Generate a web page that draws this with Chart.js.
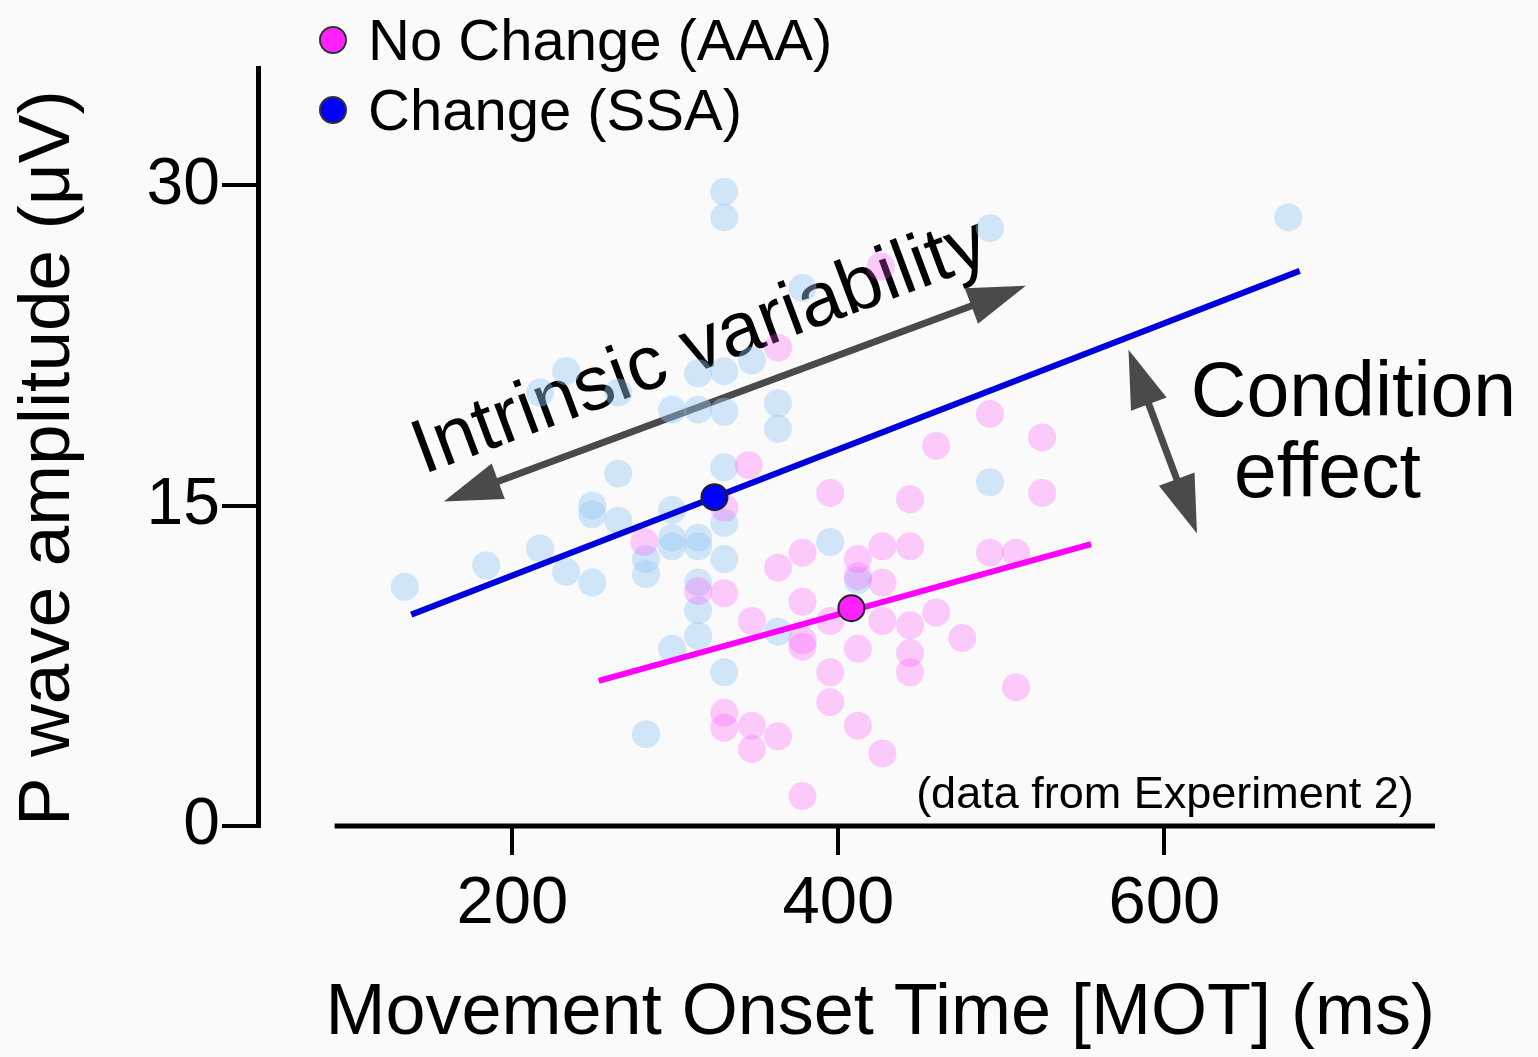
<!DOCTYPE html>
<html>
<head>
<meta charset="utf-8">
<script src="https://cdn.jsdelivr.net/npm/chart.js@4.4.0/dist/chart.umd.min.js"></script>
<style>
  html, body { margin: 0; padding: 0; background: #fafafa; }
</style>
</head>
<body>
<canvas id="motChart" width="1538" height="1057"></canvas>
<script>
// single trials: movement onset time (ms) and P wave amplitude (uV)
const ssaMot = [134, 184, 217, 233, 249, 249, 249, 265, 265, 282, 282, 282, 298, 298, 298, 298,
                314, 314, 314, 314, 314, 330, 330, 330, 330, 330, 330, 233, 217, 265, 314, 330,
                347, 298, 314, 330, 363, 363, 378, 493, 676, 395, 493, 363, 412];
const ssaAmp = [11.2, 12.2, 13.0, 11.9, 15.0, 14.6, 11.4, 16.5, 14.3, 12.5, 11.8, 4.3, 14.8, 13.5, 13.1, 8.3,
                13.5, 13.1, 11.4, 10.1, 8.9, 16.8, 14.2, 12.5, 7.2, 29.7, 28.5, 21.3, 20.3, 20.3, 21.2, 21.3,
                21.8, 19.5, 19.5, 19.4, 19.8, 18.6, 25.2, 28.0, 28.5, 13.3, 16.1, 9.1, 11.5];

const aaaMot = [281, 330, 345, 363, 426, 493, 460, 525, 395, 444, 525, 378, 363, 412, 427, 444,
                493, 509, 412, 427, 378, 395, 378, 378, 427, 444, 460, 476, 412, 444, 444, 395,
                509, 395, 412, 363, 427, 378, 314, 330, 347, 330, 330, 347, 347];
const aaaAmp = [13.3, 14.9, 16.9, 22.4, 26.2, 19.3, 17.8, 18.2, 15.6, 15.3, 15.6, 12.8, 12.1, 12.5, 13.1, 13.1,
                12.8, 12.8, 11.7, 11.4, 10.5, 9.6, 8.7, 8.4, 9.6, 9.4, 10.0, 8.8, 8.3, 8.1, 7.2, 7.2,
                6.5, 5.8, 4.7, 4.2, 3.4, 1.4, 11.0, 10.9, 9.6, 5.3, 4.6, 4.7, 3.6];

// fitted lines (end points) and condition means
const ssaFitMot = [138, 683];
const ssaFitAmp = [9.9, 26.0];
const aaaFitMot = [253, 555];
const aaaFitAmp = [6.8, 13.2];
const ssaMean = [324, 15.4];
const aaaMean = [408, 10.2];

const xTicks = [200, 400, 600];
const yTicks = [0, 15, 30];

const FONT = '"Liberation Sans", Arial, Helvetica, sans-serif';

function toPoints(xs, ys) {
    return xs.map((v, i) => ({ x: v, y: ys[i] }));
}

function arrow(ctx, x1, y1, x2, y2) {
    const ang = Math.atan2(y2 - y1, x2 - x1);
    const head = 58, half = 19;
    const cos = Math.cos(ang), sin = Math.sin(ang);
    ctx.strokeStyle = '#4a4a4a';
    ctx.fillStyle = '#4a4a4a';
    ctx.lineWidth = 7;
    ctx.beginPath();
    ctx.moveTo(x1 + cos * (head - 4), y1 + sin * (head - 4));
    ctx.lineTo(x2 - cos * (head - 4), y2 - sin * (head - 4));
    ctx.stroke();
    [[x1, y1, 1], [x2, y2, -1]].forEach(([px, py, d]) => {
        const bx = px + d * cos * head, by = py + d * sin * head;
        ctx.beginPath();
        ctx.moveTo(px, py);
        ctx.lineTo(bx - sin * half, by + cos * half);
        ctx.lineTo(bx + sin * half, by - cos * half);
        ctx.closePath();
        ctx.fill();
    });
}

// arrows and labels written on the plot
const notes = {
    id: 'notes',
    beforeDatasetsDraw(chart) {
        const { ctx, scales: { x, y } } = chart;
        ctx.save();
        arrow(ctx, x.getPixelForValue(158), y.getPixelForValue(15.2),
                   x.getPixelForValue(515), y.getPixelForValue(25.3));
        arrow(ctx, x.getPixelForValue(578), y.getPixelForValue(22.3),
                   x.getPixelForValue(620), y.getPixelForValue(13.7));

        ctx.fillStyle = '#000';
        ctx.textBaseline = 'alphabetic';
        ctx.font = '77px ' + FONT;
        ctx.textAlign = 'center';
        ctx.fillText('Condition', x.getPixelForValue(716), y.getPixelForValue(19.2));
        ctx.fillText('effect', x.getPixelForValue(700), y.getPixelForValue(15.4));

        ctx.font = '45px ' + FONT;
        ctx.textAlign = 'right';
        ctx.fillText('(data from Experiment 2)', x.getPixelForValue(753), y.getPixelForValue(0.85));

        ctx.translate(x.getPixelForValue(320), y.getPixelForValue(21.45));
        ctx.rotate(-20.5 * Math.PI / 180);
        ctx.font = '77px ' + FONT;
        ctx.textAlign = 'center';
        ctx.fillText('Intrinsic variability', 0, 0);
        ctx.restore();
    },
    afterDraw(chart) {
        const { ctx, scales: { x, y } } = chart;
        ctx.save();
        // detached x axis line
        ctx.strokeStyle = '#000';
        ctx.lineWidth = 5;
        ctx.beginPath();
        ctx.moveTo(x.getPixelForValue(91), y.getPixelForValue(0));
        ctx.lineTo(x.getPixelForValue(766), y.getPixelForValue(0));
        ctx.stroke();

        // legend
        const items = [chart.data.datasets[1], chart.data.datasets[0]];
        ctx.font = '58px ' + FONT;
        ctx.textAlign = 'left';
        ctx.textBaseline = 'alphabetic';
        items.forEach((ds, i) => {
            const cy = 40 + i * 70;
            ctx.beginPath();
            ctx.arc(333, cy, 13, 0, Math.PI * 2);
            ctx.fillStyle = ds.backgroundColor;
            ctx.fill();
            ctx.lineWidth = 2;
            ctx.strokeStyle = '#333';
            ctx.stroke();
            ctx.fillStyle = '#000';
            ctx.fillText(ds.label, 368, cy + 20);
        });
        ctx.restore();
    }
};

new Chart(document.getElementById('motChart'), {
    type: 'scatter',
    data: {
        datasets: [
            {
                label: 'Change (SSA)',
                data: [{ x: ssaMean[0], y: ssaMean[1] }],
                backgroundColor: '#0000ff',
                borderColor: '#222',
                borderWidth: 2,
                pointRadius: 13
            },
            {
                label: 'No Change (AAA)',
                data: [{ x: aaaMean[0], y: aaaMean[1] }],
                backgroundColor: '#ff22ff',
                borderColor: '#222',
                borderWidth: 2,
                pointRadius: 13
            },
            {
                label: 'SSA fit',
                data: toPoints(ssaFitMot, ssaFitAmp),
                showLine: true,
                borderColor: '#0000dd',
                borderWidth: 6,
                pointRadius: 0
            },
            {
                label: 'AAA fit',
                data: toPoints(aaaFitMot, aaaFitAmp),
                showLine: true,
                borderColor: '#ff00ff',
                borderWidth: 6,
                pointRadius: 0
            },
            {
                label: 'AAA trials',
                data: toPoints(aaaMot, aaaAmp),
                backgroundColor: 'rgba(255, 80, 255, 0.28)',
                borderWidth: 0,
                pointRadius: 14
            },
            {
                label: 'SSA trials',
                data: toPoints(ssaMot, ssaAmp),
                backgroundColor: 'rgba(150, 200, 245, 0.42)',
                borderWidth: 0,
                pointRadius: 14
            }
        ]
    },
    options: {
        responsive: false,
        animation: false,
        events: [],
        layout: { padding: { top: 68, right: 103, left: 0, bottom: 0 } },
        plugins: {
            legend: { display: false },
            tooltip: { enabled: false }
        },
        scales: {
            x: {
                type: 'linear',
                min: 44,
                max: 766,
                afterBuildTicks: s => { s.ticks = xTicks.map(v => ({ value: v })); },
                afterFit: s => { s.height = 231; },
                border: { display: false },
                grid: { drawOnChartArea: false, drawTicks: true, tickLength: 29, lineWidth: 4, tickWidth: 4, tickColor: '#000' },
                ticks: { color: '#000', font: { family: FONT, size: 67 }, padding: 9 },
                title: {
                    display: true,
                    text: 'Movement Onset Time [MOT] (ms)',
                    color: '#000',
                    align: 'end',
                    font: { family: FONT, size: 72 },
                    padding: { top: 0, bottom: 0 }
                }
            },
            y: {
                type: 'linear',
                min: 0,
                max: 35.5,
                afterBuildTicks: s => { s.ticks = yTicks.map(v => ({ value: v })); },
                afterFit: s => { s.width = 258; },
                border: { display: true, color: '#000', width: 5 },
                grid: { drawOnChartArea: false, drawTicks: true, tickLength: 36, lineWidth: 4, tickWidth: 4, tickColor: '#000' },
                ticks: { color: '#000', font: { family: FONT, size: 66 }, padding: 2 },
                title: {
                    display: true,
                    text: 'P wave amplitude (μV)',
                    color: '#000',
                    align: 'start',
                    font: { family: FONT, size: 73 },
                    padding: { top: 5, bottom: 0 }
                }
            }
        }
    },
    plugins: [notes]
});
</script>
</body>
</html>
